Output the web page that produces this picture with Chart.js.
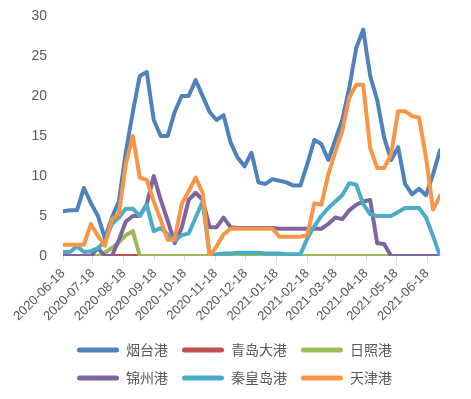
<!DOCTYPE html>
<html>
<head>
<meta charset="utf-8">
<script src="https://cdn.jsdelivr.net/npm/chart.js@4"></script>
<style>
  html, body { margin: 0; padding: 0; background: #fff; }
</style>
</head>
<body>
<canvas id="chart" width="471" height="399"></canvas>
<script>
const START = '2020-06-18';

const dates = [
    '2020-06-18', '2020-06-25', '2020-07-02', '2020-07-09', '2020-07-16', '2020-07-23', '2020-07-30',
    '2020-08-06', '2020-08-13', '2020-08-20', '2020-08-27', '2020-09-03', '2020-09-10', '2020-09-17',
    '2020-09-24', '2020-10-01', '2020-10-08', '2020-10-15', '2020-10-22', '2020-10-29', '2020-11-05',
    '2020-11-12', '2020-11-19', '2020-11-26', '2020-12-03', '2020-12-10', '2020-12-17', '2020-12-24',
    '2020-12-31', '2021-01-07', '2021-01-14', '2021-01-21', '2021-01-28', '2021-02-04', '2021-02-11',
    '2021-02-18', '2021-02-25', '2021-03-04', '2021-03-11', '2021-03-18', '2021-03-25', '2021-04-01',
    '2021-04-08', '2021-04-15', '2021-04-22', '2021-04-29', '2021-05-06', '2021-05-13', '2021-05-20',
    '2021-05-27', '2021-06-03', '2021-06-10', '2021-06-17', '2021-06-24', '2021-07-01'
];

const tickLabels = [
    '2020-06-18', '2020-07-18', '2020-08-18', '2020-09-18', '2020-10-18', '2020-11-18', '2020-12-18',
    '2021-01-18', '2021-02-18', '2021-03-18', '2021-04-18', '2021-05-18', '2021-06-18'
];

const yantai = [
    5.6, 5.7, 5.7, 8.5, 6.6, 5.0, 2.2, 4.8, 6.8, 13, 18, 22.5, 23, 17, 15, 15, 18, 20, 20, 22,
    20, 18, 17, 17.6, 14.2, 12.3, 11.2, 12.9, 9.2, 9.0, 9.6, 9.4, 9.2, 8.8, 8.8, 11.5, 14.5, 14,
    12, 14.5, 17, 21, 26, 28.3, 22.5, 19.5, 14.8, 12, 13.6, 9, 7.7, 8.4, 7.6, 10.2, 13.2
];
const qingdao = [
    0, 0, 0, 0, 0, 0, 0, 0, 0, 0, 0, 0, 0, 0, 0, 0, 0, 0, 0, 0,
    0, 0, 0, 0, 0, 0, 0, 0, 0, 0, 0, 0, 0, 0, 0, 0, 0, 0, 0, 0,
    0, 0, 0, 0, 0, 0, 0, 0, 0, 0, 0, 0, 0, 0, 0
];
const rizhao = [
    0, 0, 0, 0, 0, 0, 0.4, 1.0, 1.7, 2.6, 3.1, 0, 0, 0, 0, 0, 0, 0, 0, 0,
    0, 0, 0, 0, 0, 0, 0, 0, 0, 0, 0, 0, 0, 0, 0, 0, 0, 0, 0, 0,
    0, 0, 0, 0, 0, 0, 0, 0, 0, 0, 0, 0, 0, 0, 0
];
const jinzhou = [
    0, 0, 0, 0, 0, 1.0, 0, 0, 2.0, 4.3, 5.0, 5.0, 6.5, 10, 7, 4.4, 1.6, 3.5, 7, 7.9,
    7, 3.6, 3.6, 4.8, 3.6, 3.5, 3.5, 3.5, 3.5, 3.5, 3.5, 3.4, 3.4, 3.4, 3.4, 3.4, 3.4, 3.4,
    4.0, 4.8, 4.6, 5.7, 6.4, 6.8, 7.0, 1.6, 1.5, 0, 0, 0, 0, 0, 0, 0, 0
];
const qinhuangdao = [
    0.5, 0.5, 1.2, 0.5, 0.6, 1.0, 1.8, 4.0, 4.8, 5.9, 5.9, 5.0, 6.4, 3.1, 3.5, 2.7, 1.9, 2.6, 2.8, 4.8,
    6.8, 0.1, 0.2, 0.3, 0.3, 0.4, 0.4, 0.4, 0.4, 0.3, 0.3, 0.3, 0.2, 0.2, 0.2, 2.2, 3.7, 5.0,
    6.0, 6.8, 7.6, 9.1, 8.9, 6.5, 5.2, 5.0, 5.0, 5.0, 5.5, 6.0, 6.0, 6.0, 4.8, 2.5, 0
];
const tianjin = [
    1.4, 1.4, 1.4, 1.4, 4.0, 2.5, 1.3, 4.6, 5.2, 11.5, 15, 9.8, 9.5, 6.8, 4.5, 2.0, 2.1, 6.5, 8.1, 9.8,
    7.9, 0, 1.2, 2.7, 3.4, 3.4, 3.4, 3.4, 3.4, 3.4, 3.4, 2.4, 2.4, 2.4, 2.4, 2.6, 6.6, 6.4,
    10.2, 13, 15.6, 19.8, 21.4, 21.4, 13.5, 11, 11, 12.7, 18.1, 18.1, 17.5, 17.3, 12.3, 5.8, 7.5
];

const seriesNames = ['烟台港', '青岛大港', '日照港', '锦州港', '秦皇岛港', '天津港'];
const seriesValues = [yantai, qingdao, rizhao, jinzhou, qinhuangdao, tianjin];
const seriesColors = ['#4F81BD', '#C0504D', '#9BBB59', '#8064A2', '#4BACC6', '#F79646'];

function toDay(d) {
    return (Date.parse(d) - Date.parse(START)) / 86400000;
}

const LABEL_COLOR = '#595959';
const LINE_COLOR = '#d9d9d9';

// later series drawn on top, like the spreadsheet original
const datasets = seriesNames.map((name, i) => ({
    label: name,
    data: seriesValues[i].map((v, j) => ({ x: toDay(dates[j]), y: v })),
    borderColor: seriesColors[i],
    backgroundColor: seriesColors[i],
    borderWidth: 4,
    pointRadius: 0,
    tension: 0,
    borderJoinStyle: 'round',
    borderCapStyle: 'round',
    order: seriesNames.length - 1 - i
}));

const ctx = document.getElementById('chart').getContext('2d');
new Chart(ctx, {
    type: 'line',
    data: { datasets },
    options: {
        responsive: false,
        animation: false,
        layout: { padding: { left: 0, right: 31, top: 16, bottom: 4 } },
        plugins: {
            tooltip: { enabled: false },
            legend: {
                position: 'bottom',
                fullSize: false,
                align: 'start',
                labels: {
                    boxWidth: 42,
                    boxHeight: 5,
                    padding: 14,
                    useBorderRadius: true,
                    borderRadius: 2.5,
                    color: LABEL_COLOR,
                    font: { family: '"Noto Sans CJK SC"', size: 14 },
                    sort: (a, b) => a.datasetIndex - b.datasetIndex,
                    generateLabels(chart) {
                        return Chart.defaults.plugins.legend.labels.generateLabels(chart)
                            .map(l => Object.assign(l, { lineWidth: 0 }));
                    }
                }
            }
        },
        scales: {
            x: {
                type: 'linear',
                min: 0,
                max: toDay(dates[dates.length - 1]),
                afterBuildTicks(axis) {
                    axis.ticks = tickLabels.map(t => ({ value: toDay(t) }));
                },
                grid: { drawOnChartArea: false, drawTicks: true, tickLength: 5, color: LINE_COLOR },
                border: { color: LINE_COLOR },
                ticks: {
                    autoSkip: false,
                    minRotation: 45,
                    maxRotation: 45,
                    padding: 5,
                    color: LABEL_COLOR,
                    font: { family: '"Liberation Sans"', size: 13 },
                    callback: (value, index) => tickLabels[index]
                }
            },
            y: {
                min: 0,
                max: 30,
                afterFit(scale) { scale.width = 63; },
                grid: { display: false, drawTicks: true, tickLength: 16 },
                border: { display: false },
                ticks: {
                    stepSize: 5,
                    padding: 0,
                    color: LABEL_COLOR,
                    font: { family: '"Liberation Sans"', size: 14 }
                }
            }
        }
    }
});
</script>
</body>
</html>
